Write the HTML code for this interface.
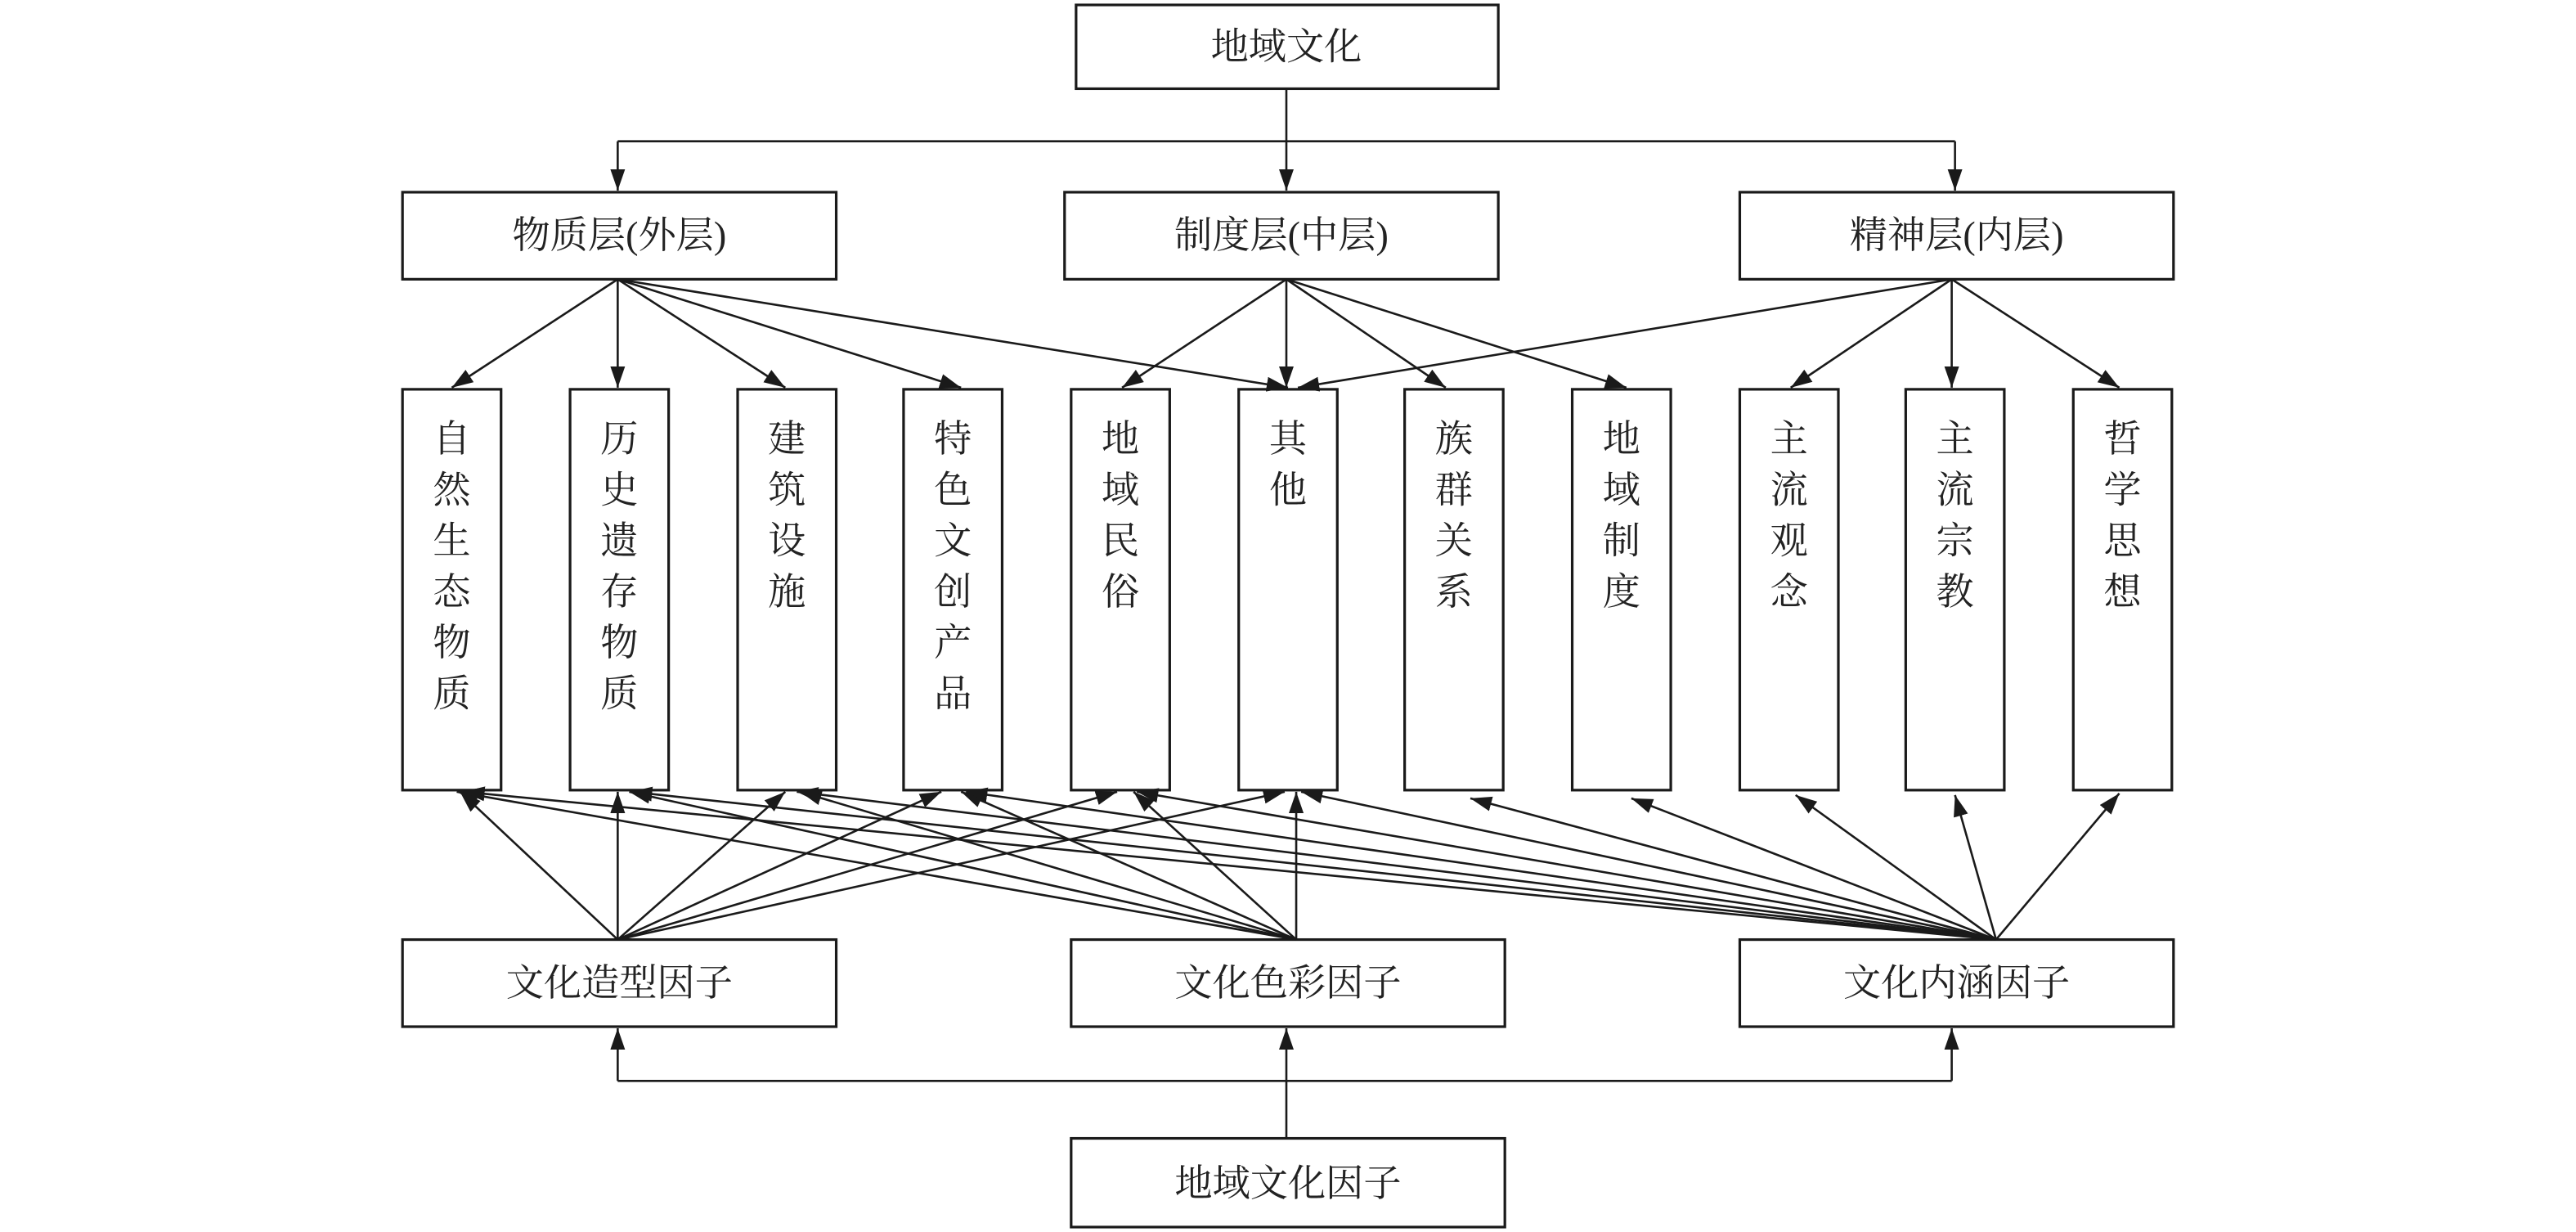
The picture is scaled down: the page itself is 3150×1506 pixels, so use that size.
<!DOCTYPE html>
<html><head><meta charset="utf-8"><style>
html,body{margin:0;padding:0;background:#fff;}
svg{display:block;}
text{font-family:"Liberation Serif","Noto Serif CJK SC","Noto Sans CJK SC",serif;fill:#222;}
</style></head><body>
<svg width="3150" height="1506" viewBox="0 0 1568 750" preserveAspectRatio="none" xmlns="http://www.w3.org/2000/svg">
<defs>
<marker id="a" markerUnits="userSpaceOnUse" markerWidth="14" markerHeight="10" refX="13" refY="4.5" orient="auto">
<path d="M0,0 L13,4.5 L0,9 Z" fill="#1a1a1a"/>
</marker>
</defs>
<g fill="none" stroke="#1a1a1a" stroke-width="1.6">
<rect x="655" y="3" width="257" height="51"/>
<rect x="245" y="117" width="264" height="53"/>
<rect x="648" y="117" width="264" height="53"/>
<rect x="1059" y="117" width="264" height="53"/>
<rect x="245" y="237" width="60" height="244"/>
<rect x="347" y="237" width="60" height="244"/>
<rect x="449" y="237" width="60" height="244"/>
<rect x="550" y="237" width="60" height="244"/>
<rect x="652" y="237" width="60" height="244"/>
<rect x="754" y="237" width="60" height="244"/>
<rect x="855" y="237" width="60" height="244"/>
<rect x="957" y="237" width="60" height="244"/>
<rect x="1059" y="237" width="60" height="244"/>
<rect x="1160" y="237" width="60" height="244"/>
<rect x="1262" y="237" width="60" height="244"/>
<rect x="245" y="572" width="264" height="53"/>
<rect x="652" y="572" width="264" height="53"/>
<rect x="1059" y="572" width="264" height="53"/>
<rect x="652" y="693" width="264" height="54"/>
</g>
<g fill="none" stroke="#1a1a1a" stroke-width="1.3" marker-end="url(#a)">
<path d="M783,54 L783,116"/>
<path d="M376,86 L1190,86" marker-end="none"/>
<path d="M376,86 L376,116"/>
<path d="M1190,86 L1190,116"/>
<!-- 物质层 -->
<path d="M376,170 L275,236"/>
<path d="M376,170 L376,236"/>
<path d="M376,170 L478,236"/>
<path d="M376,170 L585,236"/>
<path d="M376,170 L784,236"/>
<!-- 制度层 -->
<path d="M783,170 L683,236"/>
<path d="M783,170 L783,236"/>
<path d="M783,170 L880,236"/>
<path d="M783,170 L990,236"/>
<!-- 精神层 -->
<path d="M1188,170 L790,236"/>
<path d="M1188,170 L1090,236"/>
<path d="M1188,170 L1188,236"/>
<path d="M1188,170 L1290,236"/>
<!-- 文化造型 -->
<path d="M376,572 L280,482"/>
<path d="M376,572 L376,482"/>
<path d="M376,572 L478,482"/>
<path d="M376,572 L573,482"/>
<path d="M376,572 L680,482"/>
<path d="M376,572 L782,482"/>
<!-- 文化色彩 -->
<path d="M789,572 L278,482"/>
<path d="M789,572 L383,482"/>
<path d="M789,572 L487,482"/>
<path d="M789,572 L585,482"/>
<path d="M789,572 L690,482"/>
<path d="M789,572 L789,482"/>
<!-- 文化内涵 -->
<path d="M1215,572 L282,482"/>
<path d="M1215,572 L384,482"/>
<path d="M1215,572 L485,482"/>
<path d="M1215,572 L588,482"/>
<path d="M1215,572 L692,482"/>
<path d="M1215,572 L792,482"/>
<path d="M1215,572 L895,486"/>
<path d="M1215,572 L993,486"/>
<path d="M1215,572 L1093,484"/>
<path d="M1215,572 L1190,484"/>
<path d="M1215,572 L1290,483"/>
<!-- bottom -->
<path d="M783,693 L783,626"/>
<path d="M376,658 L1188,658" marker-end="none"/>
<path d="M376,658 L376,626"/>
<path d="M1188,658 L1188,626"/>
</g>
<g font-size="23" text-anchor="middle">
<text x="783" y="36">地域文化</text>
<text x="377" y="151">物质层(外层)</text>
<text x="780" y="151">制度层(中层)</text>
<text x="1191" y="151">精神层(内层)</text>
<text x="377" y="606">文化造型因子</text>
<text x="784" y="606">文化色彩因子</text>
<text x="1191" y="606">文化内涵因子</text>
<text x="784" y="728">地域文化因子</text>
</g>
<g font-size="23" text-anchor="middle">
<text x="275"><tspan x="275" y="275">自</tspan><tspan x="275" y="306">然</tspan><tspan x="275" y="337">生</tspan><tspan x="275" y="368">态</tspan><tspan x="275" y="399">物</tspan><tspan x="275" y="430">质</tspan></text>
<text x="377"><tspan x="377" y="275">历</tspan><tspan x="377" y="306">史</tspan><tspan x="377" y="337">遗</tspan><tspan x="377" y="368">存</tspan><tspan x="377" y="399">物</tspan><tspan x="377" y="430">质</tspan></text>
<text x="479"><tspan x="479" y="275">建</tspan><tspan x="479" y="306">筑</tspan><tspan x="479" y="337">设</tspan><tspan x="479" y="368">施</tspan></text>
<text x="580"><tspan x="580" y="275">特</tspan><tspan x="580" y="306">色</tspan><tspan x="580" y="337">文</tspan><tspan x="580" y="368">创</tspan><tspan x="580" y="399">产</tspan><tspan x="580" y="430">品</tspan></text>
<text x="682"><tspan x="682" y="275">地</tspan><tspan x="682" y="306">域</tspan><tspan x="682" y="337">民</tspan><tspan x="682" y="368">俗</tspan></text>
<text x="784"><tspan x="784" y="275">其</tspan><tspan x="784" y="306">他</tspan></text>
<text x="885"><tspan x="885" y="275">族</tspan><tspan x="885" y="306">群</tspan><tspan x="885" y="337">关</tspan><tspan x="885" y="368">系</tspan></text>
<text x="987"><tspan x="987" y="275">地</tspan><tspan x="987" y="306">域</tspan><tspan x="987" y="337">制</tspan><tspan x="987" y="368">度</tspan></text>
<text x="1089"><tspan x="1089" y="275">主</tspan><tspan x="1089" y="306">流</tspan><tspan x="1089" y="337">观</tspan><tspan x="1089" y="368">念</tspan></text>
<text x="1190"><tspan x="1190" y="275">主</tspan><tspan x="1190" y="306">流</tspan><tspan x="1190" y="337">宗</tspan><tspan x="1190" y="368">教</tspan></text>
<text x="1292"><tspan x="1292" y="275">哲</tspan><tspan x="1292" y="306">学</tspan><tspan x="1292" y="337">思</tspan><tspan x="1292" y="368">想</tspan></text>
</g>
</svg>
</body></html>
